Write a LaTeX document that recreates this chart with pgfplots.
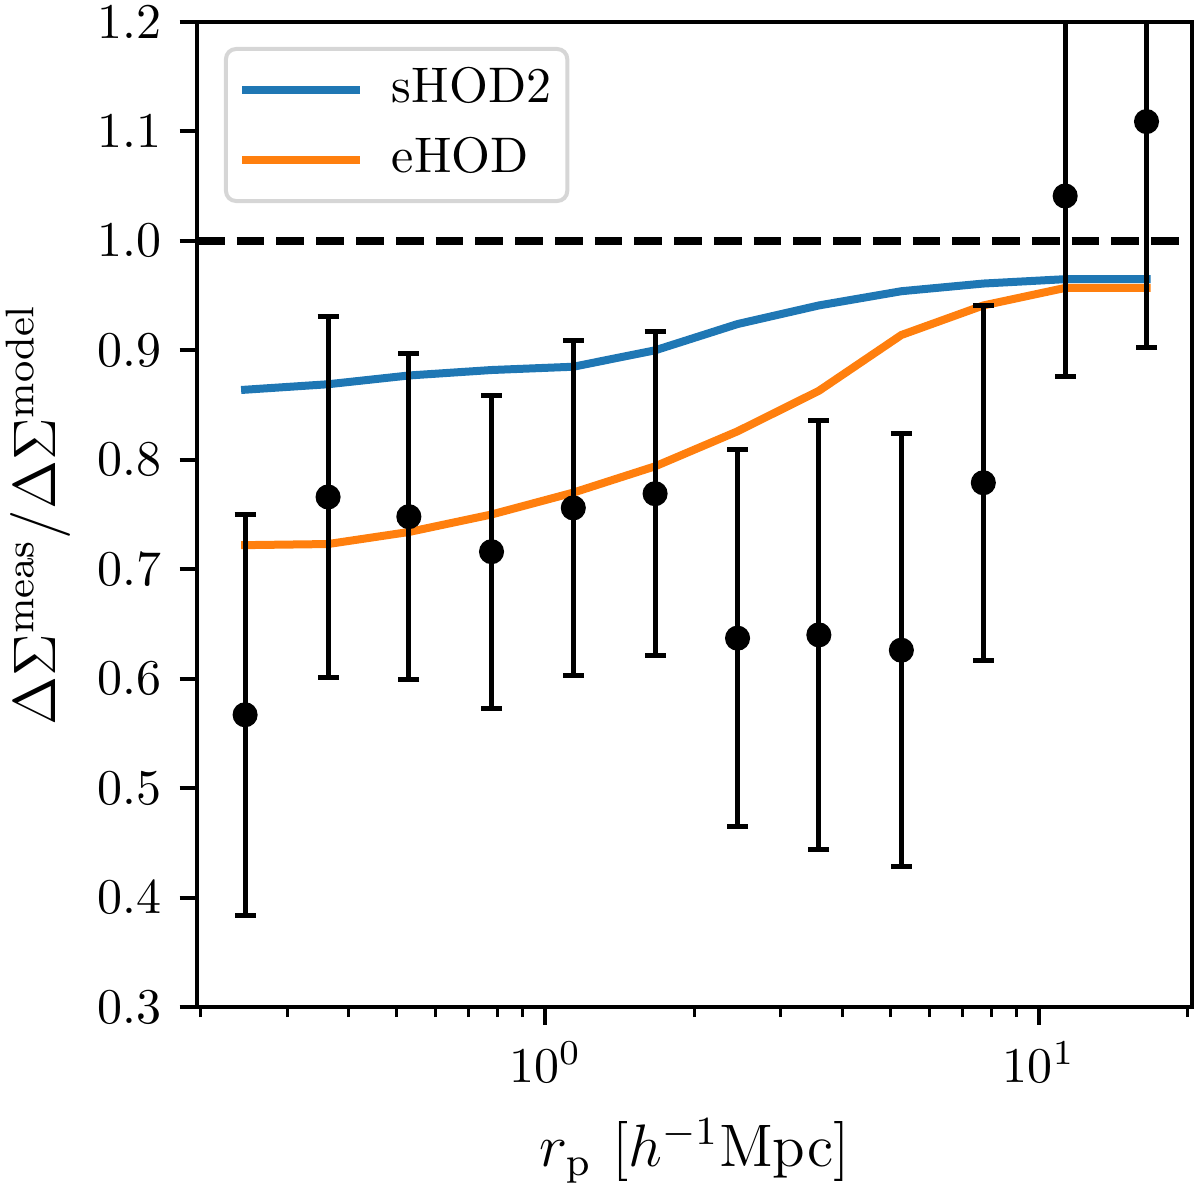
\documentclass[border=0pt]{standalone}
\usepackage{pgfplots}
\usepackage{pgfplotstable}
\pgfplotsset{compat=1.18}

\definecolor{mplblue}{HTML}{1F77B4}
\definecolor{mplorange}{HTML}{FF7F0E}
\definecolor{legframe}{HTML}{D6D6D6}

% measured ratio with symmetric errors, and the two model curves
\pgfplotstableread{
rp      ratio  err    shod   ehod
0.2465  0.567  0.183  0.864  0.722
0.363   0.766  0.165  0.869  0.723
0.529   0.748  0.149  0.877  0.734
0.778   0.716  0.143  0.882  0.750
1.139   0.756  0.153  0.885  0.770
1.668   0.769  0.148  0.900  0.794
2.45    0.637  0.172  0.924  0.826
3.58    0.640  0.196  0.941  0.863
5.26    0.626  0.198  0.954  0.914
7.71    0.779  0.162  0.961  0.941
11.29   1.041  0.165  0.965  0.957
16.5    1.109  0.206  0.965  0.957
}\ratiodata

\begin{document}
\begin{tikzpicture}
\useasboundingbox (-39.4pt,-36.2pt) rectangle (200.6pt,201.4pt);
\begin{axis}[
    scale only axis,
    width=199pt, height=197pt,
    xmode=log,
    xmin=0.197, xmax=20.4,
    ymin=0.3, ymax=1.2,
    xtick={1,10},
    minor xtick={0.2,0.3,0.4,0.5,0.6,0.7,0.8,0.9,2,3,4,5,6,7,8,9,20},
    ytick={0.3,0.4,0.5,0.6,0.7,0.8,0.9,1.0,1.1,1.2},
    yticklabel style={/pgf/number format/.cd, fixed, fixed zerofill, precision=1},
    tick align=outside,
    tick pos=left,
    major tick length=3.5pt,
    minor tick length=2pt,
    every tick/.style={black, line width=0.8pt},
    every minor tick/.style={black, line width=0.6pt},
    axis line style={line width=0.8pt},
    ticklabel style={font=\fontsize{10}{12}\selectfont},
    xlabel={$r_{\mathrm{p}}\,\left[h^{-1}\mathrm{Mpc}\right]$},
    xlabel style={at={(axis description cs:0.5,0)}, anchor=base, yshift=-31.8pt,
        font=\fontsize{12}{14}\selectfont},
    ylabel={$\Delta\Sigma^{\mathrm{meas}}/\Delta\Sigma^{\mathrm{model}}$},
    ylabel style={at={(axis description cs:-0.16,0.5)}, anchor=center,
        font=\fontsize{12}{14}\selectfont},
    legend image code/.code={\draw[#1] (0pt,0pt) -- (22pt,0pt);},
    legend cell align=left,
    legend style={
        at={(0.0271,0.9746)}, anchor=north west,
        draw=legframe, line width=0.8pt, rounded corners=2pt, fill=white,
        inner xsep=3.2pt, inner ysep=3.7pt,
        column sep=6.4pt, row sep=5pt,
        nodes={inner sep=0pt, text height=7pt, text depth=2pt},
        font=\fontsize{10}{12}\selectfont,
    },
]
\addplot[mplblue, line width=1.6pt, line cap=rect, line join=round]
    table[x=rp, y=shod] {\ratiodata};
\addlegendentry{sHOD2}
\addplot[mplorange, line width=1.6pt, line cap=rect, line join=round]
    table[x=rp, y=ehod] {\ratiodata};
\addlegendentry{eHOD}

\addplot[black, line width=1.5pt, dash pattern=on 5.55pt off 2.4pt, forget plot]
    coordinates {(0.197,1.0) (20.4,1.0)};

\addplot[black, only marks, mark=*, mark size=2pt, line width=1pt, forget plot,
    error bars/.cd, y dir=both, y explicit,
    error bar style={line width=1pt},
    error mark options={rotate=90, mark size=2.1pt, line width=1pt}]
    table[x=rp, y=ratio, y error=err] {\ratiodata};
\end{axis}
\end{tikzpicture}
\end{document}
